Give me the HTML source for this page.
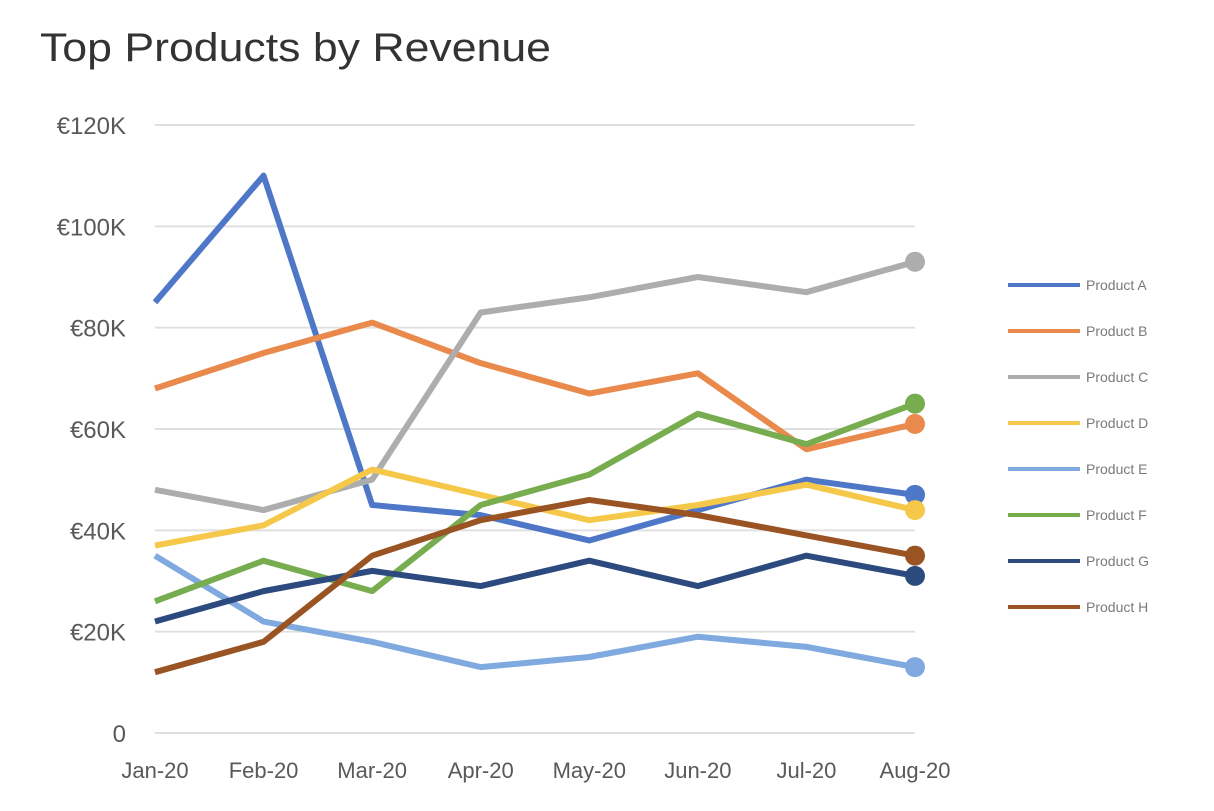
<!DOCTYPE html>
<html><head><meta charset="utf-8"><style>
body{margin:0;background:#fff;width:1214px;height:806px;overflow:hidden;font-family:"Liberation Sans",sans-serif}
</style></head><body>
<svg id="chart" width="1214" height="806" xmlns="http://www.w3.org/2000/svg">
<text x="40" y="61" font-size="40" textLength="511" lengthAdjust="spacingAndGlyphs" fill="#333" font-family="Liberation Sans, sans-serif">Top Products by Revenue</text>
<g id="grid"></g><g id="series"></g><g id="legend"></g>
</svg>
<script>
const categories=["Jan-20","Feb-20","Mar-20","Apr-20","May-20","Jun-20","Jul-20","Aug-20"];
const yTicks=[0,20,40,60,80,100,120];
const yTickLabels=["0","€20K","€40K","€60K","€80K","€100K","€120K"];
const seriesNames=["Product A","Product B","Product C","Product D","Product E","Product F","Product G","Product H"];
const productA=[85,110,45,43,38,44,50,47];
const productB=[68,75,81,73,67,71,56,61];
const productC=[48,44,50,83,86,90,87,93];
const productD=[37,41,52,47,42,45,49,44];
const productE=[35,22,18,13,15,19,17,13];
const productF=[26,34,28,45,51,63,57,65];
const productG=[22,28,32,29,34,29,35,31];
const productH=[12,18,35,42,46,43,39,35];
const seriesValues=[productA,productB,productC,productD,productE,productF,productG,productH];
const colors=["#4f77c8","#e98a4c","#adadad","#f5c84a","#7fa9df","#77ac4f","#2c4a7e","#9a5424"];
const NS="http://www.w3.org/2000/svg";
const x0=155,x1=915,yBase=733,yTop=125;
const xs=i=>x0+i*(x1-x0)/(categories.length-1);
const ys=v=>yBase-(v/120)*(yBase-yTop);
function mk(t,a,p){const e=document.createElementNS(NS,t);for(const k in a)e.setAttribute(k,a[k]);p.appendChild(e);return e;}
const grid=document.getElementById('grid');
yTicks.forEach((t,i)=>{
 const l=mk('line',{x1:x0,x2:x1,y1:ys(t),y2:ys(t),stroke:'#e0e0e0','stroke-width':2},grid);
 
 
 const tx=mk('text',{x:126,y:ys(t)+9,'text-anchor':'end','font-size':24,fill:'#595959'},grid);
 tx.textContent=yTickLabels[i];
 
 
});
categories.forEach((c,i)=>{
 const tx=mk('text',{x:xs(i),y:778,'text-anchor':'middle','font-size':22,fill:'#595959'},grid);
 tx.textContent=c;
 
 
});
const sg=document.getElementById('series'),lg=document.getElementById('legend');
seriesValues.forEach((vals,s)=>{
 const pts=vals.map((v,i)=>xs(i)+','+ys(v)).join(' ');
 const pl=mk('polyline',{points:pts,fill:'none',stroke:colors[s],'stroke-width':6,'stroke-linejoin':'round'},sg);
 
 
 const last=vals.length-1;
 const c=mk('circle',{cx:xs(last),cy:ys(vals[last]),r:10,fill:colors[s]},sg);
 
 
 const ly=285+s*46;
 const ll=mk('line',{x1:1008,x2:1080,y1:ly,y2:ly,stroke:colors[s],'stroke-width':4},lg);
 
 
 const lt=mk('text',{x:1086,y:ly+5,'font-size':14,fill:'#7a7a7a'},lg);
 lt.textContent=seriesNames[s];
 
 
});
</script>
</body></html>
